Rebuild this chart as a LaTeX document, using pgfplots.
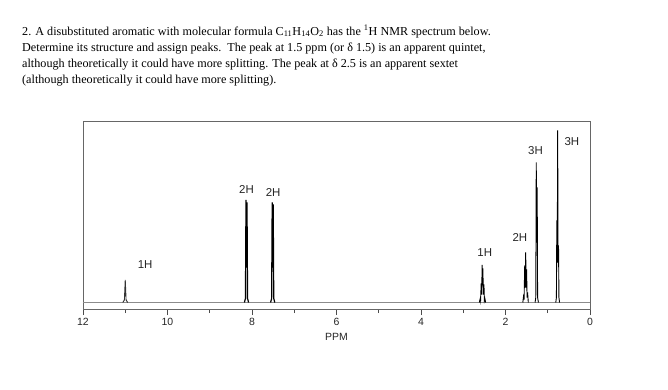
\documentclass[border=0pt]{standalone}
\usepackage{pgfplots}
\pgfplotsset{compat=1.18}
\usepackage{fontspec}
\setmainfont{Liberation Serif}
\setsansfont{Liberation Sans}
\begin{document}
\begin{tikzpicture}
\useasboundingbox[fill=white] (0,0) rectangle (668bp,-390bp);
\begin{scope}[every node/.style={anchor=base west, inner sep=0pt, font=\fontsize{12.2}{14}\selectfont}]
\node at (22bp,-35bp) {2. A disubstituted aromatic with molecular formula C\textsubscript{11}H\textsubscript{14}O\textsubscript{2} has the \textsuperscript{1}H NMR spectrum below.};
\node at (22bp,-51bp) {Determine its structure and assign peaks.\ \ The peak at 1.5 ppm (or δ 1.5) is an apparent quintet,};
\node at (22bp,-67bp) {although theoretically it could have more splitting. The peak at δ 2.5 is an apparent sextet};
\node at (22bp,-83bp) {(although theoretically it could have more splitting).};
\end{scope}
\begin{axis}[
  at={(83bp,-309bp)}, anchor=south west,
  scale only axis, width=507bp, height=188bp,
  xmin=0, xmax=12, x dir=reverse,
  ymin=-6.5, ymax=181.5,
  axis line style={black!60, line width=0.8bp},
  xtick={0,2,...,12}, minor xtick={1,3,...,11},
  xtick pos=bottom, ytick=\empty,
  tick align=outside,
  major tick length=6bp, minor tick length=4bp,
  every tick/.style={black!70, line width=0.8bp},
  /pgf/number format/assume math mode=true,
  xticklabel style={font=\sffamily\fontsize{10.5}{12}\selectfont, text=black!85},
  xlabel={PPM}, xlabel style={font=\sffamily\fontsize{10.5}{12}\selectfont, text=black!85, yshift=-1bp},
  clip=false,
]
% baseline
\addplot[black!45, line width=1.1bp] coordinates {(12,0) (0,0)};
% 1H singlet ~11.0
\addplot[black!80, line width=0.9bp] coordinates {(11.06,0) (11.02,2.5) (11.0,22.5) (10.98,2.5) (10.94,0)};
% 2H doublet ~8.13
\addplot[black, line width=1.2bp] coordinates {(8.18,0) (8.155,4) (8.142,102.5) (8.13,35) (8.118,100) (8.105,4) (8.08,0)};
% 2H doublet ~7.51
\addplot[black, line width=1.2bp] coordinates {(7.56,0) (7.535,4) (7.522,100) (7.51,35) (7.498,98) (7.485,4) (7.46,0)};
% 1H sextet ~2.54
\addplot[black, line width=0.9bp] coordinates {(2.62,0) (2.598,4) (2.59,2) (2.575,19) (2.565,8) (2.552,37.5) (2.545,20) (2.535,34) (2.525,8) (2.51,18) (2.50,2) (2.488,4) (2.47,0)};
% 2H quintet ~1.52
\addplot[black, line width=0.9bp] coordinates {(1.59,0) (1.568,8) (1.56,3) (1.545,37) (1.535,15) (1.522,50) (1.51,15) (1.50,33) (1.49,5) (1.477,10) (1.46,0)};
% 3H doublet ~1.26
\addplot[black, line width=0.9bp] coordinates {(1.30,0) (1.283,5) (1.272,140) (1.262,60) (1.25,115) (1.24,5) (1.22,0)};
% 3H triplet ~0.76
\addplot[black, line width=0.9bp] coordinates {(0.81,0) (0.795,5) (0.785,82) (0.775,40) (0.765,172) (0.755,40) (0.745,57) (0.735,5) (0.72,0)};
\begin{scope}[every node/.style={font=\sffamily\fontsize{11.5}{13}\selectfont, text=black!85, inner sep=0pt}]
\node at (axis cs:10.53,37.5) {1H};
\node at (axis cs:8.13,113.5) {2H};
\node at (axis cs:7.50,110.5) {2H};
\node at (axis cs:2.49,49.5) {1H};
\node at (axis cs:1.66,65.5) {2H};
\node at (axis cs:1.29,151.5) {3H};
\node at (axis cs:0.43,160.5) {3H};
\end{scope}
\end{axis}
\end{tikzpicture}
\end{document}
